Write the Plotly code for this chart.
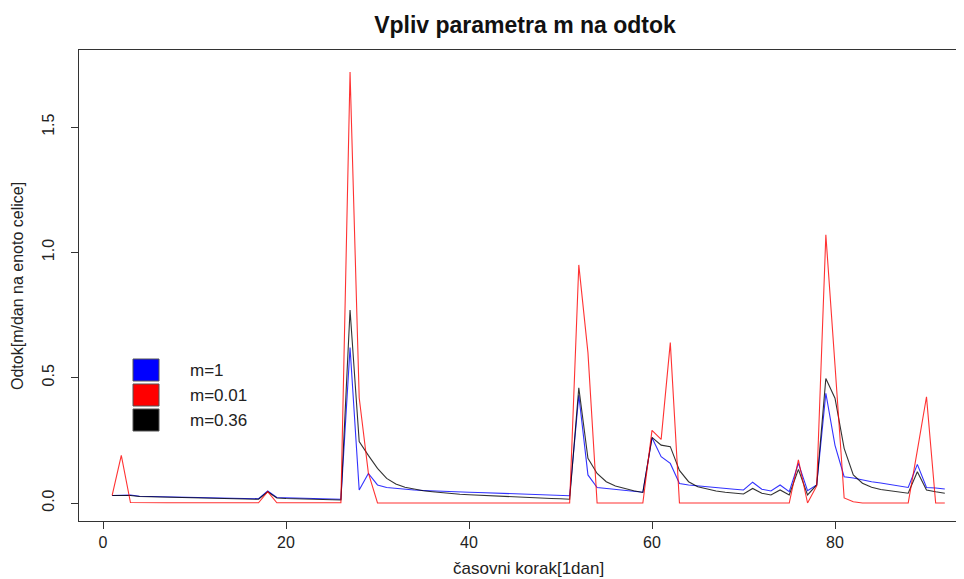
import plotly.graph_objects as go

# ---------------- data ----------------
steps = list(range(1, 93))

odtok_m1 = [
    0.030, 0.030, 0.032, 0.027, 0.026, 0.025, 0.024, 0.024, 0.023, 0.022,
    0.021, 0.021, 0.020, 0.019, 0.019, 0.018, 0.017, 0.048, 0.022, 0.021,
    0.020, 0.019, 0.018, 0.017, 0.016, 0.015, 0.620, 0.052, 0.118, 0.072,
    0.062, 0.058, 0.055, 0.052, 0.050, 0.048, 0.046, 0.045, 0.044, 0.043,
    0.042, 0.041, 0.040, 0.039, 0.038, 0.036, 0.035, 0.034, 0.032, 0.031,
    0.029, 0.430, 0.112, 0.062, 0.058, 0.054, 0.050, 0.046, 0.043, 0.260,
    0.185, 0.158, 0.078, 0.072, 0.068, 0.065, 0.062, 0.058, 0.055, 0.052,
    0.083, 0.055, 0.048, 0.072, 0.045, 0.158, 0.049, 0.072, 0.438, 0.230,
    0.105, 0.100, 0.092, 0.085, 0.080, 0.074, 0.068, 0.062, 0.154, 0.062,
    0.060, 0.056,
]

odtok_m001 = [
    0.030, 0.190, 0.002, 0.001, 0.001, 0.001, 0.001, 0.001, 0.001, 0.001,
    0.001, 0.001, 0.001, 0.001, 0.001, 0.001, 0.001, 0.045, 0.001, 0.001,
    0.001, 0.001, 0.001, 0.001, 0.001, 0.001, 1.720, 0.420, 0.120, 0.000,
    0.000, 0.000, 0.000, 0.000, 0.000, 0.000, 0.000, 0.000, 0.000, 0.000,
    0.000, 0.000, 0.000, 0.000, 0.000, 0.000, 0.000, 0.000, 0.000, 0.000,
    0.000, 0.950, 0.600, 0.000, 0.000, 0.000, 0.000, 0.000, 0.000, 0.290,
    0.254, 0.640, 0.000, 0.000, 0.000, 0.000, 0.000, 0.000, 0.000, 0.000,
    0.003, 0.000, 0.000, 0.000, 0.000, 0.172, 0.000, 0.068, 1.070, 0.550,
    0.020, 0.005, 0.000, 0.000, 0.000, 0.000, 0.000, 0.000, 0.210, 0.424,
    0.000, 0.000,
]

odtok_m036 = [
    0.030, 0.030, 0.030, 0.026, 0.025, 0.024, 0.023, 0.022, 0.021, 0.020,
    0.019, 0.019, 0.018, 0.017, 0.016, 0.016, 0.015, 0.045, 0.020, 0.018,
    0.017, 0.016, 0.015, 0.014, 0.013, 0.012, 0.770, 0.245, 0.190, 0.138,
    0.098, 0.076, 0.063, 0.055, 0.049, 0.045, 0.041, 0.038, 0.035, 0.033,
    0.031, 0.029, 0.027, 0.026, 0.024, 0.023, 0.021, 0.020, 0.018, 0.017,
    0.015, 0.460, 0.178, 0.118, 0.085, 0.068, 0.057, 0.049, 0.042, 0.262,
    0.231, 0.225, 0.130, 0.085, 0.065, 0.055, 0.048, 0.043, 0.039, 0.036,
    0.058, 0.039, 0.032, 0.052, 0.032, 0.134, 0.032, 0.072, 0.497, 0.418,
    0.218, 0.112, 0.079, 0.063, 0.054, 0.048, 0.043, 0.039, 0.125, 0.052,
    0.045, 0.039,
]

series_names = ["m=1", "m=0.01", "m=0.36"]
series_colors = ["#0000FF", "#FF0000", "#000000"]
x_ticks = [0, 20, 40, 60, 80]
y_ticks = [0.0, 0.5, 1.0, 1.5]
y_tick_labels = ["0.0", "0.5", "1.0", "1.5"]

# ---------------- layout geometry (window pixels) ----------------
OFF = 8                      # page body margin of the browser
WIN_W, WIN_H = 964, 579
W, H = WIN_W - OFF, WIN_H - OFF
FRAME_L, FRAME_T, FRAME_B = 79, 50, 521
L = FRAME_L - OFF
T = FRAME_T - OFF
B = WIN_H - FRAME_B
R = 0
pw, ph = W - L - R, H - T - B

X0_PIX, X_PER_UNIT = 103, 9.15       # window pixel of x=0, px per step
Y0_PIX, Y_PER_UNIT = 503, 250.6      # window pixel of y=0, px per unit


def px(xw):
    return (xw - FRAME_L) / pw


def py(yw):
    return (FRAME_B - yw) / ph


fig = go.Figure()
series = [odtok_m1, odtok_m036, odtok_m001]
order_names = ["m=1", "m=0.36", "m=0.01"]
order_colors = ["#0000FF", "#000000", "#FF0000"]
for vals, name, col in zip(series, order_names, order_colors):
    fig.add_trace(go.Scatter(
        x=steps, y=vals, mode="lines", name=name,
        line=dict(color=col, width=1.1), opacity=0.8, showlegend=False,
    ))

font_family = "Liberation Sans, Arial, sans-serif"

fig.update_layout(
    width=W, height=H,
    margin=dict(l=L, r=R, t=T, b=B, pad=0),
    paper_bgcolor="white", plot_bgcolor="white",
    font=dict(family=font_family, color="#222222", size=16),
    title=dict(
        text="<b>Vpliv parametra m na odtok</b>",
        x=px(525), xref="paper", xanchor="center",
        y=1 - (25 - OFF) / H, yref="container", yanchor="middle",
        font=dict(size=23, color="#111111"),
    ),
    xaxis=dict(
        range=[(FRAME_L - X0_PIX) / X_PER_UNIT, (WIN_W - X0_PIX) / X_PER_UNIT],
        tickvals=x_ticks, ticks="outside", ticklen=7, tickwidth=1,
        tickcolor="#333333", showline=True, linecolor="#333333", linewidth=1.3,
        mirror=True, showgrid=False, zeroline=False,
        tickfont=dict(size=16, color="#222222"),
    ),
    yaxis=dict(
        range=[-(FRAME_B - Y0_PIX) / Y_PER_UNIT, (Y0_PIX - FRAME_T) / Y_PER_UNIT],
        tickvals=y_ticks, ticktext=y_tick_labels, tickangle=-90,
        ticks="outside", ticklen=7, tickwidth=1, tickcolor="#333333",
        showline=True, linecolor="#333333", linewidth=1.3, mirror=False,
        showgrid=False, zeroline=False,
        tickfont=dict(size=16, color="#222222"),
        ticklabelstandoff=10,
    ),
    showlegend=False,
)

# axis titles
fig.add_annotation(text="časovni korak[1dan]", xref="paper", yref="paper",
                   x=px(528), y=py(568), showarrow=False,
                   font=dict(size=17, color="#222222"),
                   xanchor="center", yanchor="middle")
fig.add_annotation(text="Odtok[m/dan na enoto celice]", xref="paper", yref="paper",
                   x=px(17), y=py(286), showarrow=False, textangle=-90,
                   font=dict(size=16, color="#222222"),
                   xanchor="center", yanchor="middle")

# manual legend (filled squares + labels)
leg_rows = [(359, 381), (384, 406), (409, 431)]
for (y0, y1), name, col in zip(leg_rows, series_names, series_colors):
    fig.add_shape(type="rect", xref="paper", yref="paper",
                  x0=px(133), x1=px(159), y0=py(y1), y1=py(y0),
                  fillcolor=col, line=dict(color="#555555", width=1))
    fig.add_annotation(text=name, xref="paper", yref="paper",
                       x=px(188), y=py((y0 + y1) / 2), showarrow=False,
                       xanchor="left", yanchor="middle",
                       font=dict(size=17, color="#222222"))

fig.write_html("out.html")
